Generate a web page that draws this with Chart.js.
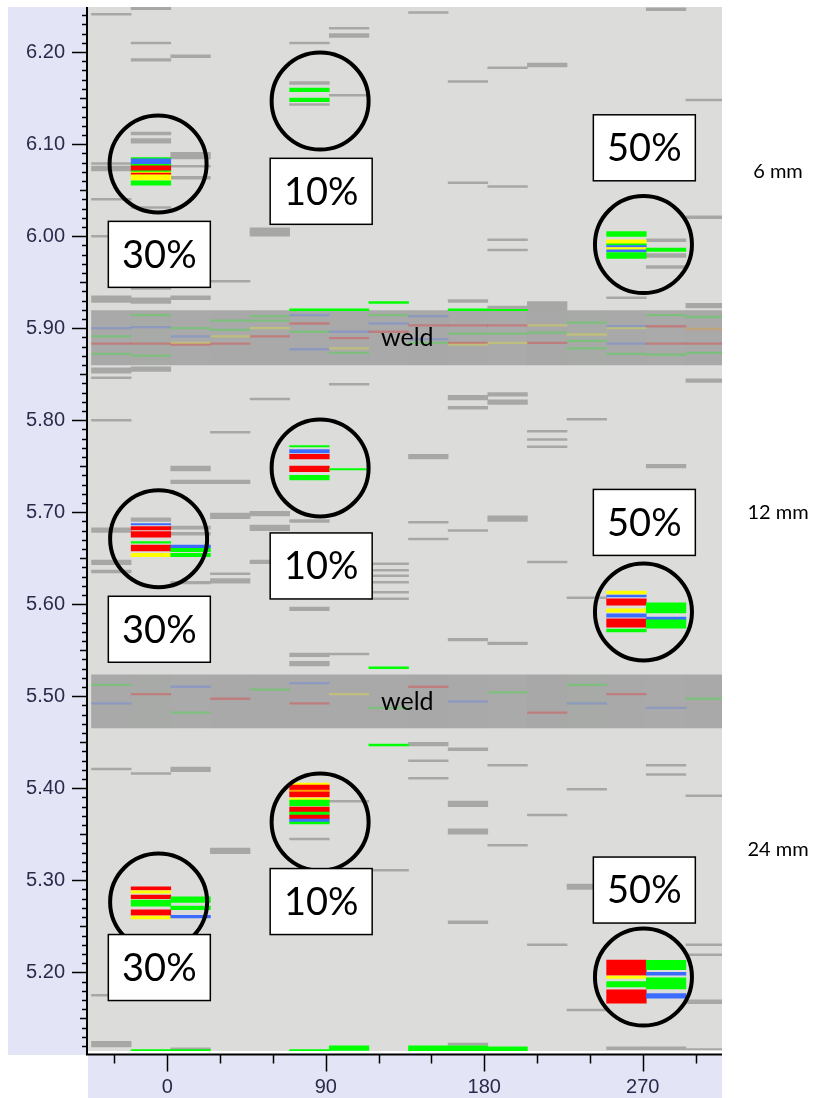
<!DOCTYPE html>
<html>
<head>
<meta charset="utf-8">
<script src="https://cdn.jsdelivr.net/npm/chart.js@4.4.1/dist/chart.umd.min.js"></script>
<style>
  html, body { margin: 0; padding: 0; background: #ffffff; }
  #wrap { width: 824px; height: 1098px; position: relative; }
</style>
</head>
<body>
<div id="wrap"><canvas id="scan" width="824" height="1098"></canvas></div>
<script>
// ---- axes ----
const X_MIN = -45, X_MAX = 315;
const Y_MIN = 5.1145, Y_MAX = 6.249;
const X_TICK_LABELS = [0, 90, 180, 270];
const X_MINOR_TICKS = [-30, 30, 60, 120, 150, 210, 240, 300];
const Y_TICK_LABELS = [5.2, 5.3, 5.4, 5.5, 5.6, 5.7, 5.8, 5.9, 6.0, 6.1, 6.2];

// angular bins: 16 sectors of 22.5 deg
const BIN_START = -43, BIN_WIDTH = 22.5, BIN_COUNT = 16;

// ---- grey indications: [sector, low, high] ----
const GREY_TOP = [
  [1,6.246,6.250],[0,6.240,6.242],[1,6.209,6.211],[1,6.190,6.193],[2,6.194,6.197],
  [1,6.110,6.113],[1,6.101,6.106],[2,6.084,6.091],[2,6.075,6.077],[2,6.062,6.065],
  [0,6.078,6.080],[0,6.071,6.076],[0,6.039,6.041],[1,6.030,6.032],[0,5.999,6.001],
  [4,6.000,6.009],[3,5.950,5.952],[1,5.942,5.944],[0,5.928,5.935],[1,5.927,5.933],
  [2,5.931,5.935],[5,6.165,6.168],[5,6.142,6.144],[6,6.225,6.227],[6,6.216,6.220],
  [5,6.209,6.211],[8,6.242,6.244],[14,6.245,6.248],[10,6.182,6.184],[11,6.184,6.188],
  [9,6.167,6.169],[15,6.147,6.149],[6,6.152,6.154],[9,6.057,6.059],[10,6.053,6.055],
  [10,5.995,5.997],[10,5.984,5.986],[14,5.994,5.997],[14,5.977,5.981],[14,5.965,5.968],
  [15,6.019,6.022],[13,5.932,5.934],[15,5.922,5.927],[11,5.919,5.929],[9,5.928,5.931],
  [10,5.921,5.924]
];
const GREY_MID = [
  [0,5.851,5.857],[1,5.853,5.858],[0,5.845,5.847],[2,5.731,5.735],[3,5.731,5.735],
  [1,5.690,5.694],[2,5.6815,5.685],[2,5.675,5.678],[0,5.678,5.683],[0,5.643,5.648],
  [0,5.634,5.637],[3,5.693,5.699],[3,5.632,5.634],[3,5.623,5.628],[2,5.622,5.625],
  [4,5.696,5.701],[4,5.680,5.686],[4,5.644,5.648],[5,5.689,5.692],[5,5.593,5.597],
  [5,5.543,5.547],[5,5.533,5.538],[0,5.799,5.801],[2,5.745,5.750],[3,5.786,5.788],
  [4,5.822,5.824],[6,5.838,5.840],[8,5.758,5.763],[9,5.812,5.815],[9,5.822,5.827],
  [10,5.826,5.830],[10,5.817,5.822],[11,5.787,5.789],[11,5.778,5.780],[11,5.770,5.772],
  [12,5.800,5.802],[14,5.748,5.752],[15,5.841,5.845],[6,5.658,5.660],[7,5.643,5.645],
  [7,5.636,5.638],[7,5.630,5.632],[7,5.623,5.625],[7,5.612,5.614],[7,5.605,5.607],
  [8,5.688,5.690],[8,5.670,5.672],[10,5.690,5.696],[9,5.679,5.681],[11,5.645,5.647],
  [12,5.606,5.608],[6,5.545,5.547],[9,5.560,5.563],[10,5.556,5.559]
];
const GREY_LOW = [
  [8,5.446,5.450],[9,5.441,5.444],[0,5.420,5.422],[1,5.415,5.417],[2,5.418,5.423],
  [6,5.385,5.387],[8,5.429,5.431],[8,5.410,5.412],[9,5.380,5.386],[9,5.350,5.356],
  [10,5.424,5.426],[10,5.337,5.339],[11,5.370,5.372],[12,5.398,5.400],[14,5.424,5.426],
  [14,5.414,5.416],[15,5.391,5.393],[12,5.290,5.296],[3,5.329,5.335],[5,5.344,5.346],
  [7,5.310,5.312],[9,5.253,5.256],[11,5.229,5.231],[0,5.174,5.176],[2,5.173,5.177],
  [15,5.229,5.231],[15,5.218,5.220],[15,5.166,5.170],[12,5.158,5.160],[0,5.119,5.125],
  [9,5.1205,5.123],[13,5.116,5.119],[14,5.116,5.119],[15,5.116,5.117],[2,5.116,5.118]
];

// ---- coloured indications: [sector, low, high, colour key] ----
const COLOURED = [
  // 6 mm
  [1,6.084,6.0855,'g'],[1,6.078,6.084,'b'],[1,6.0765,6.078,'g'],[1,6.071,6.0765,'r'],
  [1,6.0695,6.071,'g'],[1,6.0685,6.0695,'y'],[1,6.067,6.0685,'r'],[1,6.066,6.067,'o'],
  [1,6.061,6.066,'y'],[1,6.0555,6.060,'g'],
  [5,6.157,6.161,'g'],[5,6.146,6.150,'g'],
  [13,5.9996,6.005,'g'],[13,5.9916,5.996,'y'],[13,5.9898,5.9916,'g'],[13,5.988,5.9898,'b'],
  [13,5.985,5.9876,'y'],[13,5.9828,5.985,'b'],[13,5.9757,5.9822,'g'],[14,5.9833,5.987,'g'],
  [5,5.919,5.921,'g'],[6,5.919,5.921,'g'],[7,5.927,5.929,'g'],[9,5.919,5.921,'g'],[10,5.919,5.9205,'g'],
  // 12 mm
  [1,5.6862,5.6876,'b'],[1,5.6808,5.6843,'r'],[1,5.6728,5.6789,'r'],[1,5.6663,5.668,'g'],
  [1,5.6579,5.6644,'r'],[1,5.6517,5.6554,'y'],
  [2,5.6608,5.6644,'b'],[2,5.6572,5.6608,'g'],[2,5.6517,5.6554,'g'],
  [5,5.771,5.7725,'g'],[5,5.7645,5.768,'b'],[5,5.758,5.763,'r'],[5,5.744,5.750,'r'],
  [5,5.735,5.740,'g'],[6,5.746,5.7475,'g'],[7,5.530,5.532,'g'],
  [13,5.611,5.6144,'y'],[13,5.608,5.610,'b'],[13,5.599,5.606,'r'],[13,5.5915,5.595,'y'],
  [13,5.586,5.5895,'b'],[13,5.575,5.584,'r'],[13,5.570,5.573,'g'],
  [14,5.5905,5.6015,'g'],[14,5.583,5.586,'b'],[14,5.574,5.583,'g'],
  // 24 mm
  [7,5.446,5.448,'g'],
  [5,5.4036,5.4057,'y'],[5,5.3981,5.4036,'r'],[5,5.3959,5.3981,'o'],[5,5.3905,5.3959,'r'],
  [5,5.3873,5.3894,'y'],[5,5.3807,5.3873,'g'],[5,5.3742,5.3796,'r'],[5,5.3709,5.3742,'g'],
  [5,5.3666,5.3709,'r'],[5,5.3633,5.3666,'b'],[5,5.3612,5.3633,'g'],
  [1,5.2895,5.293,'r'],[1,5.286,5.2885,'y'],[1,5.280,5.284,'r'],[1,5.272,5.2785,'g'],
  [1,5.262,5.268,'r'],[1,5.258,5.261,'y'],
  [2,5.276,5.282,'g'],[2,5.268,5.272,'g'],[2,5.259,5.262,'b'],
  [13,5.197,5.2134,'r'],[13,5.1935,5.196,'y'],[13,5.184,5.190,'g'],[13,5.1666,5.181,'r'],
  [14,5.203,5.213,'g'],[14,5.197,5.200,'b'],[14,5.182,5.194,'g'],[14,5.172,5.177,'b'],
  [1,5.114,5.116,'g'],[2,5.114,5.116,'g'],[5,5.114,5.116,'g'],[6,5.115,5.120,'g'],
  [8,5.114,5.120,'g'],[9,5.114,5.120,'g'],[10,5.114,5.119,'g']
];
const PALETTE = { g: '#00ff00', b: '#3b6cff', r: '#ff0000', y: '#ffff00', o: '#ff9a00' };

// ---- weld zones ----
const WELD_ZONES = [[5.860, 5.919], [5.4655, 5.5232]];
const WELD_SHADES = ['#a9a9a9','#a8aaa7','#aaaaaa','#a9a9a9','#a8a9a8','#a9a9a9','#aaa9aa','#a9a9a9',
                     '#a8a8a9','#a9a9a9','#aaaaaa','#a8a8a8','#a7aaa6','#a9a9a9','#a9aaa9','#a9a9a9'];
// faint traces inside weld zones: [zone, sector, offset from zone top, colour key]
const WELD_TRACES = [
  [0,0,0.018,'b'],[0,0,0.027,'g'],[0,0,0.035,'r'],[0,0,0.046,'g'],
  [0,1,0.004,'g'],[0,1,0.017,'b'],[0,1,0.035,'r'],[0,1,0.048,'g'],
  [0,2,0.018,'g'],[0,2,0.027,'b'],[0,2,0.034,'y'],[0,2,0.036,'r'],
  [0,3,0.010,'g'],[0,3,0.027,'y'],[0,3,0.035,'r'],[0,3,0.020,'g'],
  [0,4,0.005,'g'],[0,4,0.010,'g'],[0,4,0.018,'y'],[0,4,0.027,'r'],
  [0,5,0.004,'b'],[0,5,0.013,'r'],[0,5,0.022,'g'],[0,5,0.041,'b'],
  [0,6,0.022,'b'],[0,6,0.029,'r'],[0,6,0.040,'y'],[0,6,0.045,'g'],
  [0,7,0.004,'g'],[0,7,0.013,'b'],[0,7,0.022,'r'],
  [0,8,0.005,'b'],[0,8,0.015,'r'],[0,8,0.030,'b'],[0,8,0.034,'g'],
  [0,9,0.015,'r'],[0,9,0.024,'g'],[0,9,0.034,'r'],[0,9,0.036,'y'],
  [0,10,0.015,'r'],[0,10,0.024,'g'],[0,10,0.034,'y'],
  [0,11,0.015,'y'],[0,11,0.023,'g'],[0,11,0.034,'r'],
  [0,12,0.012,'g'],[0,12,0.025,'y'],[0,12,0.032,'g'],[0,12,0.040,'g'],
  [0,13,0.016,'b'],[0,13,0.018,'y'],[0,13,0.035,'b'],[0,13,0.046,'g'],
  [0,14,0.004,'g'],[0,14,0.016,'r'],[0,14,0.035,'r'],[0,14,0.047,'g'],
  [0,15,0.006,'g'],[0,15,0.019,'o'],[0,15,0.035,'r'],[0,15,0.045,'g'],
  [1,0,0.010,'g'],[1,0,0.030,'b'],[1,1,0.020,'r'],[1,2,0.012,'b'],[1,2,0.040,'g'],
  [1,3,0.025,'r'],[1,4,0.015,'g'],[1,5,0.008,'b'],[1,5,0.030,'r'],[1,6,0.020,'y'],
  [1,7,0.035,'g'],[1,8,0.012,'r'],[1,9,0.028,'b'],[1,10,0.018,'g'],[1,11,0.040,'r'],
  [1,12,0.010,'g'],[1,12,0.030,'b'],[1,13,0.020,'r'],[1,14,0.035,'b'],[1,15,0.025,'g']
];

// ---- annotations ----
const RINGS = [
  [-5.2,6.0784],[86.8,6.1468],[270.4,5.9909],
  [-4.9,5.6712],[86.8,5.7481],[270.4,5.5916],
  [-4.9,5.2764],[86.8,5.3633],[270.4,5.1949]
];
const DEPTH_BOXES = [
  [-4.5,5.9802,'30%'],[87.4,6.0487,'10%'],[270.9,6.0960,'50%'],
  [-4.5,5.5728,'30%'],[87.4,5.6416,'10%'],[270.9,5.6889,'50%'],
  [-4.5,5.2052,'30%'],[87.4,5.2769,'10%'],[270.9,5.2894,'50%']
];
const WELD_LABELS = [[136.3,5.8895,'weld'],[136.3,5.4938,'weld']];
const WALL_LABELS = [[6.0699,'6 mm'],[5.6998,'12 mm'],[5.3329,'24 mm']];

// ---- helpers ----
const sectorCentre = k => BIN_START + BIN_WIDTH * (k + 0.5);
const toBars = list => list.map(s => ({ x: sectorCentre(s[0]), y: [s[1], s[2]] }));
const GREY = GREY_TOP.concat(GREY_MID, GREY_LOW);

const weldBars = [], weldColours = [];
WELD_ZONES.forEach(z => {
  for (let k = 0; k < BIN_COUNT; k++) {
    weldBars.push({ x: sectorCentre(k), y: [z[0], z[1]] });
    weldColours.push(WELD_SHADES[k]);
  }
});
const traceBars = WELD_TRACES.map(t => {
  const top = WELD_ZONES[t[0]][1] - t[2];
  return { x: sectorCentre(t[1]), y: [top - 0.0018, top] };
});
const traceColours = WELD_TRACES.map(t => PALETTE[t[3]] + '40');

const barCommon = { type: 'bar', grouped: false, barPercentage: 1, categoryPercentage: 1, borderWidth: 0, borderSkipped: false };

// ---- backgrounds, axis lines, tick marks, labels ----
const frame = {
  id: 'frame',
  beforeDraw(chart) {
    const { ctx, chartArea: a } = chart;
    ctx.save();
    ctx.fillStyle = '#e4e4f7';
    ctx.fillRect(8, a.top, a.left - 8, a.bottom - a.top + 4);
    ctx.fillRect(a.left, a.bottom + 4, a.right - a.left, chart.height - a.bottom - 4);
    ctx.fillStyle = '#dcdddb';
    ctx.fillRect(a.left, a.top, a.right - a.left, a.bottom - a.top);
    ctx.restore();
  },
  afterDatasetsDraw(chart) {
    const { ctx, chartArea: a, scales: { x, y } } = chart;
    ctx.save();
    // depth boxes
    DEPTH_BOXES.forEach(b => {
      const cx = x.getPixelForValue(b[0]), cy = y.getPixelForValue(b[1]);
      ctx.fillStyle = '#ffffff';
      ctx.fillRect(cx - 51, cy - 33, 102, 66);
      ctx.strokeStyle = '#000000';
      ctx.lineWidth = 1.5;
      ctx.strokeRect(cx - 51, cy - 33, 102, 66);
      ctx.fillStyle = '#000000';
      ctx.font = '38px Lato';
      ctx.textAlign = 'center';
      ctx.textBaseline = 'middle';
      ctx.fillText(b[2], cx, cy + 1);
    });
    ctx.font = '25px Lato';
    ctx.fillStyle = '#000000';
    ctx.textAlign = 'center';
    ctx.textBaseline = 'middle';
    WELD_LABELS.forEach(w => ctx.fillText(w[2], x.getPixelForValue(w[0]), y.getPixelForValue(w[1])));
    ctx.font = '20px Lato';
    WALL_LABELS.forEach(w => ctx.fillText(w[1], a.right + 56, y.getPixelForValue(w[0])));
    ctx.restore();
  },
  afterDraw(chart) {
    const { ctx, chartArea: a, scales: { x, y } } = chart;
    ctx.save();
    ctx.fillStyle = '#ffffff';
    ctx.fillRect(a.left, a.bottom, a.right - a.left, 2.5);
    ctx.strokeStyle = '#000000';
    ctx.lineWidth = 2;
    const axY = a.bottom + 3.5, axX = a.left - 1;
    ctx.beginPath();
    ctx.moveTo(axX, a.top); ctx.lineTo(axX, axY + 1);
    ctx.moveTo(axX, axY); ctx.lineTo(a.right, axY);
    ctx.stroke();
    ctx.lineWidth = 1.5;
    ctx.beginPath();
    for (let i = Math.ceil(Y_MIN * 100); i <= Math.floor(Y_MAX * 100); i++) {
      const py = Math.round(y.getPixelForValue(i / 100)) + 0.5;
      const len = i % 10 === 0 ? 15 : (i % 5 === 0 ? 7 : 5);
      ctx.moveTo(axX - len, py); ctx.lineTo(axX, py);
    }
    X_TICK_LABELS.forEach(v => { const px = Math.round(x.getPixelForValue(v)) + 0.5; ctx.moveTo(px, axY); ctx.lineTo(px, axY + 17); });
    X_MINOR_TICKS.forEach(v => { const px = Math.round(x.getPixelForValue(v)) + 0.5; ctx.moveTo(px, axY); ctx.lineTo(px, axY + 9); });
    ctx.stroke();
    ctx.restore();
  }
};

new Chart(document.getElementById('scan'), {
  type: 'bar',
  data: {
    datasets: [
      { ...barCommon, label: 'rings', type: 'bubble', order: 0,
        data: RINGS.map(r => ({ x: r[0], y: r[1], r: 48.5 })),
        backgroundColor: 'rgba(0,0,0,0)', borderColor: '#000000', borderWidth: 4 },
      { ...barCommon, label: 'coloured', order: 1, data: toBars(COLOURED),
        backgroundColor: COLOURED.map(s => PALETTE[s[3]]) },
      { ...barCommon, label: 'grey', order: 2, data: toBars(GREY), backgroundColor: '#a7a8a6' },
      { ...barCommon, label: 'traces', order: 3, data: traceBars, backgroundColor: traceColours },
      { ...barCommon, label: 'weld', order: 4, data: weldBars, backgroundColor: weldColours }
    ]
  },
  options: {
    responsive: false,
    animation: false,
    events: [],
    layout: { autoPadding: false, padding: { left: 8, right: 102, top: 7, bottom: 0 } },
    plugins: { legend: { display: false }, tooltip: { enabled: false } },
    scales: {
      x: {
        type: 'linear', min: X_MIN, max: X_MAX, offset: false,
        grid: { display: false, drawTicks: false }, border: { display: false },
        afterBuildTicks: s => { s.ticks = X_TICK_LABELS.map(v => ({ value: v })); },
        afterFit: s => { s.height = 47; s.paddingLeft = 0; s.paddingRight = 0; },
        ticks: { padding: 24, color: '#2a2a4a', font: { family: 'Liberation Sans', size: 20 }, maxRotation: 0 }
      },
      y: {
        type: 'linear', min: Y_MIN, max: Y_MAX,
        grid: { display: false, drawTicks: false }, border: { display: false },
        afterBuildTicks: s => { s.ticks = Y_TICK_LABELS.map(v => ({ value: v })); },
        afterFit: s => { s.width = 80; s.paddingTop = 0; s.paddingBottom = 0; },
        ticks: { padding: 23, color: '#2a2a4a', font: { family: 'Liberation Sans', size: 20 },
                 callback: v => Number(v).toFixed(2) }
      }
    }
  },
  plugins: [frame]
});
</script>
</body>
</html>
